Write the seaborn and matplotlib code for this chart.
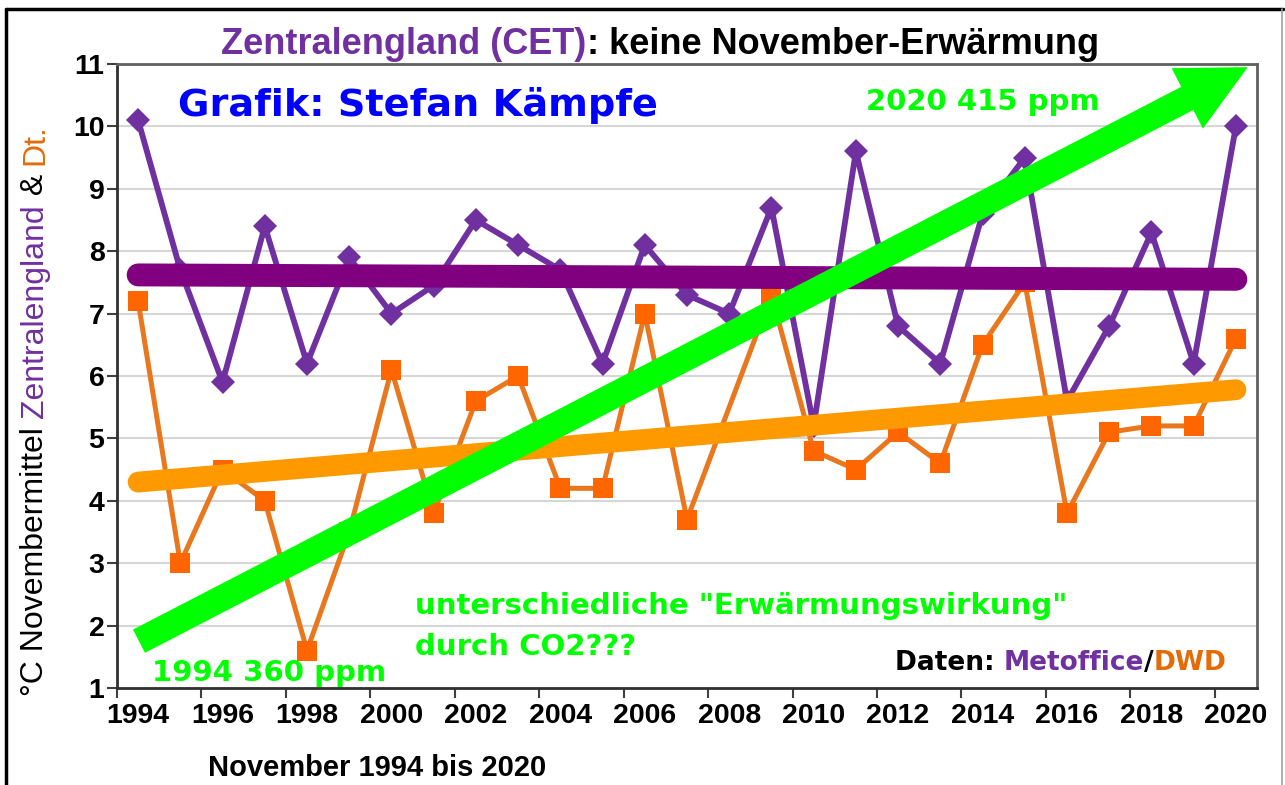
import numpy as np
import pandas as pd
import matplotlib
matplotlib.use("Agg")
import matplotlib.pyplot as plt
import seaborn as sns
from matplotlib.lines import Line2D
from matplotlib.patches import ArrowStyle
from matplotlib.font_manager import FontProperties

# ---------------- data ----------------
years = list(range(1994, 2021))
cet = [10.1, 7.7, 5.9, 8.4, 6.2, 7.9, 7.0, 7.45, 8.5, 8.1, 7.7, 6.2, 8.1, 7.3,
       7.0, 8.7, 5.2, 9.6, 6.8, 6.2, 8.6, 9.5, 5.6, 6.8, 8.3, 6.2, 10.0]
dwd = [7.2, 3.0, 4.5, 4.0, 1.6, 3.5, 6.1, 3.8, 5.6, 6.0, 4.2, 4.2, 7.0, 3.7,
       np.nan, 7.3, 4.8, 4.5, 5.1, 4.6, 6.5, 7.5, 3.8, 5.1, 5.2, 5.2, 6.6]
trend_years = [1994, 2020]
cet_trend = [7.62, 7.55]
dwd_trend = [4.3, 5.78]
co2_arrow_x = [1994.02, 2020.28]
co2_arrow_y = [1.75, 10.95]
xtick_labels = [str(y) for y in range(1994, 2021, 2)]
yticks = list(range(1, 12))

W, H = 1285, 785
PURPLE = '#7030A0'
PURPLE_TREND = '#800080'
ORANGE_LINE = '#E8771E'
ORANGE_MARK = '#FF6600'
ORANGE_TREND = '#FF9900'
GREEN = '#00FF00'
BLUE = '#0000FF'

sns.set_theme(style="white")
plt.rcParams['font.family'] = ['DejaVu Sans']

fig = plt.figure(figsize=(W / 100, H / 100), dpi=100)
fig.patch.set_facecolor('white')
ax = fig.add_axes([117 / W, 1 - 688 / H, 1140 / W, 624 / H])
ax.set_facecolor('white')

df = pd.DataFrame({'year': years, 'cet': cet, 'dwd': dwd})
trend_df = pd.DataFrame({'year': trend_years, 'cet': cet_trend, 'dwd': dwd_trend})

sns.lineplot(data=df.dropna(subset=['dwd']), x='year', y='dwd', ax=ax,
             color=ORANGE_LINE, lw=3.6, marker='s', markersize=15,
             markerfacecolor=ORANGE_MARK, markeredgewidth=0, zorder=3)
sns.lineplot(data=df, x='year', y='cet', ax=ax, color=PURPLE, lw=4.2,
             marker='D', markersize=12.5, markeredgewidth=0, zorder=4)
sns.lineplot(data=trend_df, x='year', y='cet', ax=ax, color=PURPLE_TREND,
             lw=16.5, solid_capstyle='round', zorder=5)
sns.lineplot(data=trend_df, x='year', y='dwd', ax=ax, color=ORANGE_TREND,
             lw=15, solid_capstyle='round', zorder=5)

# green CO2 arrow
ax.annotate("", xy=(co2_arrow_x[1], co2_arrow_y[1]),
            xytext=(co2_arrow_x[0], co2_arrow_y[0]),
            arrowprops=dict(arrowstyle=ArrowStyle.Simple(head_length=2.45, head_width=2.45,
                                                         tail_width=0.94),
                            mutation_scale=20, color=GREEN, lw=0,
                            shrinkA=0, shrinkB=0),
            zorder=6, annotation_clip=False)

# axes styling
ax.set_xlim(1993.5, 2020.5)
ax.set_ylim(1, 11)
ax.set_xlabel("")
ax.set_ylabel("")
ax.set_yticks(yticks)
ax.set_yticklabels([str(v) for v in yticks])
ax.set_xticks(np.arange(1993.5, 2020, 2))
ax.set_xticklabels([])
ax.set_xticks(range(1994, 2021, 2), minor=True)
ax.set_xticklabels(xtick_labels, minor=True)
ax.tick_params(axis='x', which='major', bottom=True, length=7, width=1.5,
               direction='out', color='#404040', labelbottom=False)
ax.tick_params(axis='x', which='minor', bottom=True, length=0, pad=11)
ax.tick_params(axis='y', left=True, length=7, width=1.5, direction='out',
               color='#404040', pad=2)
tick_fp = FontProperties(family='Liberation Sans', weight='bold', size=20.5)
for lbl in ax.get_xticklabels(minor=True) + ax.get_yticklabels():
    lbl.set_fontproperties(tick_fp)
    lbl.set_color('black')

ax.yaxis.grid(True, color='#d6d6d6', lw=1.5)
ax.xaxis.grid(False)
ax.set_axisbelow(True)
for side in ['left', 'bottom']:
    ax.spines[side].set_color('#303030')
    ax.spines[side].set_linewidth(2)
for side in ['top', 'right']:
    ax.spines[side].set_color('#606060')
    ax.spines[side].set_linewidth(2)

# ---------------- text helpers ----------------
renderer = fig.canvas.get_renderer()


def text_width(s, fp):
    if not s:
        return 0.0
    w1, _, _ = renderer.get_text_width_height_descent(s + "l", fp, ismath=False)
    w2, _, _ = renderer.get_text_width_height_descent("l", fp, ismath=False)
    return w1 - w2


def multi_text(x, y, pieces, fp, rotation=0, align='left', target=None, zorder=3):
    full = ''.join(s for s, _ in pieces)
    total = text_width(full, fp)
    prefix = ''
    for s, c in pieces:
        off = text_width(prefix, fp)
        if rotation == 0:
            start = x - total / 2 if align == 'center' else x
            px, py = start + off, y
        else:
            start = y + total / 2 if align == 'center' else y
            px, py = x, start - off
        kw = dict(color=c, fontproperties=fp, rotation=rotation,
                  rotation_mode='anchor', ha='left', va='baseline')
        if target is None:
            fig.text(px / W, 1 - py / H, s, **kw)
        else:
            target.text(px / W, 1 - py / H, s, transform=fig.transFigure,
                        clip_on=False, zorder=zorder, **kw)
        prefix += s


# title
title_fp = FontProperties(family='Liberation Sans', weight='bold', size=26)
multi_text(660, 54, [("Zentralengland (CET)", PURPLE),
                     (": keine November-Erwärmung", 'black')],
           title_fp, align='center')

# y label (rotated, multicolour)
ylab_fp = FontProperties(family='Liberation Sans', size=23)
multi_text(43, 410, [("°C Novembermittel ", 'black'),
                     ("Zentralengland", PURPLE),
                     (" & ", 'black'),
                     ("Dt.", '#E36C09')],
           ylab_fp, rotation=90, align='center')

# x label
xlab_fp = FontProperties(family='Liberation Sans', weight='bold', size=21)
fig.text(208 / W, 1 - 776 / H, "November 1994 bis 2020", fontproperties=xlab_fp,
         color='black', ha='left', va='baseline')

# annotations inside the plot
big_fp = FontProperties(family='DejaVu Sans', weight='bold', size=27.5)
green_fp = FontProperties(family='DejaVu Sans', weight='bold', size=21)
daten_fp = FontProperties(family='DejaVu Sans', weight='bold', size=19)

multi_text(178, 116, [("Grafik: Stefan Kämpfe", BLUE)], big_fp, target=ax, zorder=2.5)
multi_text(866, 110, [("2020 415 ppm", GREEN)], green_fp, target=ax, zorder=2.5)
multi_text(415, 614, [('unterschiedliche "Erwärmungswirkung"', GREEN)], green_fp,
           target=ax, zorder=2.5)
multi_text(415, 655, [("durch CO2???", GREEN)], green_fp, target=ax, zorder=2.5)
multi_text(152, 681, [("1994 360 ppm", GREEN)], green_fp, target=ax, zorder=2.5)
multi_text(895, 670, [("Daten: ", 'black'), ("Metoffice", PURPLE), ("/", 'black'),
                      ("DWD", '#E36C09')], daten_fp, target=ax, zorder=2.5)

# outer frame of the picture
fig.add_artist(Line2D([6 / W, 6 / W], [1 - 9 / H, 0], transform=fig.transFigure,
                      color='black', lw=2.5))
fig.add_artist(Line2D([6 / W, 1283 / W], [1 - 9 / H, 1 - 9 / H],
                      transform=fig.transFigure, color='black', lw=2.5))
fig.add_artist(Line2D([1282 / W, 1282 / W], [1 - 9 / H, 0], transform=fig.transFigure,
                      color='#a0a0a0', lw=1.2))

fig.savefig("out.png", dpi=100, facecolor='white')
